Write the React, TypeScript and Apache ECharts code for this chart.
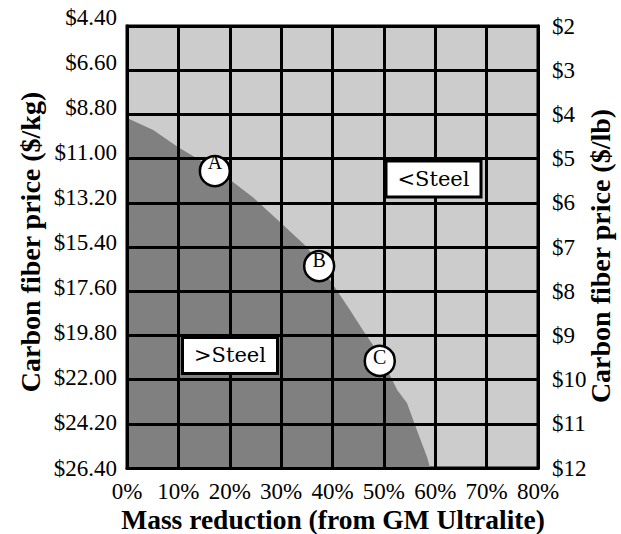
import React, { useEffect, useRef } from "react";
import * as echarts from "echarts";

// Tick labels
const leftTickLabels = ["$4.40", "$6.60", "$8.80", "$11.00", "$13.20", "$15.40", "$17.60", "$19.80", "$22.00", "$24.20", "$26.40"];

// Boundary between >Steel (dark) and <Steel (light): [mass reduction %, $/kg]
const boundaryX = [0, 5.1, 9.9, 14.8, 20.1, 24.5, 30.4, 35.0, 39.5, 43.4, 45.9, 49.2, 52.6, 54.5, 56.4, 58.4, 59.0];
const boundaryY = [8.98, 9.58, 10.42, 11.17, 12.07, 12.92, 14.3, 15.4, 17.04, 18.54, 19.53, 20.78, 22.52, 23.16, 24.5, 25.85, 26.4];

// Design points
const pointNames = ["A", "B", "C"];
const pointX = [17.1, 37.4, 49.2];
const pointY = [11.62, 16.35, 21.07];
const pointLabelOffsets = [-9, -6, -4];

// Region labels
const regionNames = [">Steel", "<Steel"];
const regionX = [20.05, 59.66];
const regionY = [20.8, 12.02];

const SERIF = "Liberation Serif, Times New Roman, serif";

export default function App() {
  const ref = useRef<HTMLDivElement>(null);
  useEffect(() => {
    if (!ref.current) return;
    const chart = echarts.init(ref.current, null, { renderer: "svg" });
    const gridPos = { left: 127, right: 83, top: 26, bottom: 66 };
    const tickText = {
      color: "#000",
      fontFamily: SERIF,
      fontSize: 23,
      fontWeight: "normal",
    };
    chart.setOption({
      animation: false,
      textStyle: { fontFamily: SERIF },
      grid: [
        { ...gridPos, show: true, backgroundColor: "#cccccc", borderColor: "#000", borderWidth: 3 },
        { left: 127, right: 83, top: 17, bottom: 66, show: false },
      ],
      xAxis: [
        {
          type: "value",
          gridIndex: 0,
          min: 0,
          max: 80,
          interval: 10,
          z: 5,
          axisLine: { show: true, lineStyle: { color: "#000", width: 3 } },
          axisTick: { show: false },
          splitLine: { show: true, lineStyle: { color: "#000", width: 3 } },
          axisLabel: {
            ...tickText,
            formatter: (v: number) => v + "%",
            margin: 12,
          },
        },
        { type: "value", gridIndex: 1, show: false, min: 0, max: 80 },
      ],
      yAxis: [
        {
          type: "value",
          gridIndex: 0,
          min: 4.4,
          max: 26.4,
          interval: 2.2,
          inverse: true,
          z: 5,
          axisLine: { show: true, lineStyle: { color: "#000", width: 3 } },
          axisTick: { show: false },
          axisLabel: { show: false },
          splitLine: { show: true, lineStyle: { color: "#000", width: 3 } },
        },
        {
          type: "value",
          gridIndex: 0,
          position: "right",
          min: 2,
          max: 12,
          interval: 1,
          inverse: true,
          z: 5,
          axisLine: { show: true, lineStyle: { color: "#000", width: 3 } },
          axisTick: { show: false },
          splitLine: { show: false },
          axisLabel: {
            ...tickText,
            formatter: (v: number) => "$" + v,
            margin: 14,
          },
        },
        {
          type: "category",
          gridIndex: 1,
          data: leftTickLabels,
          boundaryGap: false,
          inverse: true,
          axisLine: { show: false },
          axisTick: { show: false },
          splitLine: { show: false },
          axisLabel: {
            ...tickText,
            interval: 0,
            margin: 10,
          },
        },
      ],
      series: [
        {
          type: "line",
          xAxisIndex: 0,
          yAxisIndex: 0,
          data: boundaryX.map((x, i) => [x, boundaryY[i]]),
          symbol: "none",
          lineStyle: { width: 0 },
          areaStyle: { color: "#808080", opacity: 1, origin: "end" },
          z: 2,
          silent: true,
        },
        {
          type: "scatter",
          xAxisIndex: 0,
          yAxisIndex: 0,
          z: 10,
          symbol: "circle",
          symbolSize: 30,
          itemStyle: { color: "#fff", borderColor: "#000", borderWidth: 2.5, opacity: 1 },
          data: pointNames.map((n, i) => ({
            name: n,
            value: [pointX[i], pointY[i]],
            label: { offset: [0, pointLabelOffsets[i]] },
          })),
          label: {
            show: true,
            position: "inside",
            formatter: "{b}",
            color: "#000",
            fontFamily: SERIF,
            fontSize: 20,
          },
        },
        {
          type: "scatter",
          xAxisIndex: 0,
          yAxisIndex: 0,
          z: 10,
          symbolSize: 1,
          itemStyle: { color: "rgba(0,0,0,0)", opacity: 1 },
          data: regionNames.map((n, i) => ({ name: n, value: [regionX[i], regionY[i]] })),
          label: {
            show: true,
            position: "inside",
            formatter: "{b}",
            color: "#000",
            fontFamily: "DejaVu Serif, serif",
            fontSize: 21,
            backgroundColor: "#fff",
            borderColor: "#000",
            borderWidth: 3,
            padding: [6, 10, 6, 10],
          },
        },
      ],
      graphic: [
        {
          type: "text",
          x: 30,
          y: 242,
          rotation: Math.PI / 2,
          style: {
            text: "Carbon fiber price ($/kg)",
            font: "bold 28px 'Liberation Serif', serif",
            fill: "#000",
            textAlign: "center",
            textVerticalAlign: "middle",
          },
        },
        {
          type: "text",
          x: 600,
          y: 256,
          rotation: Math.PI / 2,
          style: {
            text: "Carbon fiber price ($/lb)",
            font: "bold 28px 'Liberation Serif', serif",
            fill: "#000",
            textAlign: "center",
            textVerticalAlign: "middle",
          },
        },
        {
          type: "text",
          x: 333,
          y: 519,
          style: {
            text: "Mass reduction (from GM Ultralite)",
            font: "bold 27.5px 'Liberation Serif', serif",
            fill: "#000",
            textAlign: "center",
            textVerticalAlign: "middle",
          },
        },
      ],
    });
    return () => chart.dispose();
  }, []);
  return (
    <div
      ref={ref}
      style={{ position: "fixed", left: 0, top: 0, width: 621, height: 534, background: "#fff" }}
    />
  );
}
